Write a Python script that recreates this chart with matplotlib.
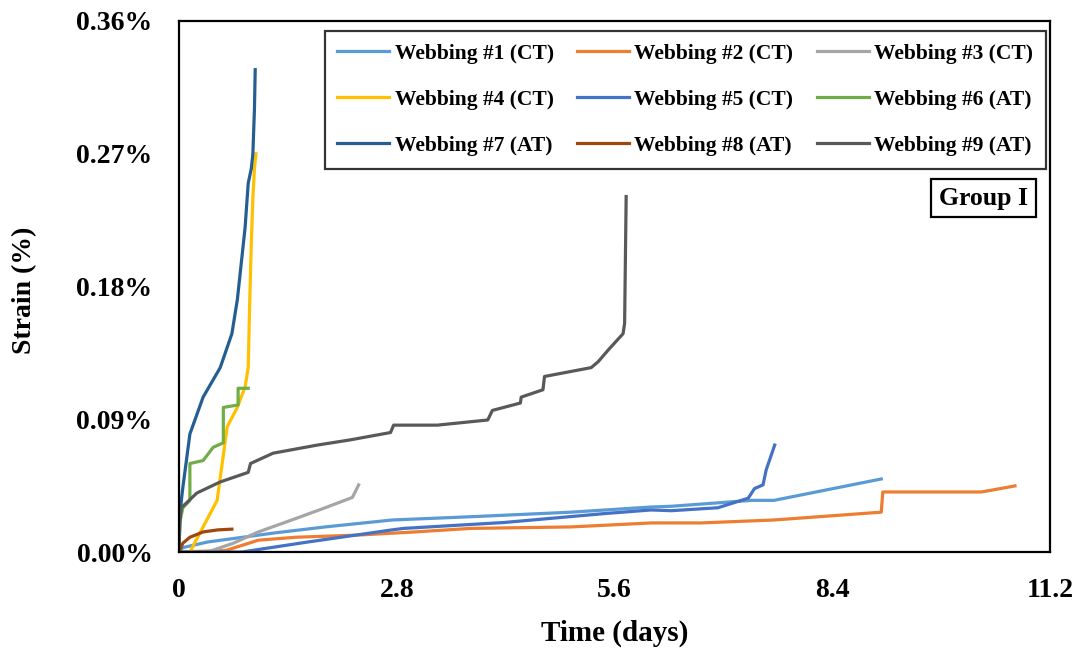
import matplotlib
matplotlib.use("Agg")
import matplotlib.pyplot as plt
from matplotlib.ticker import FixedLocator

plt.rcParams['font.family'] = ['Liberation Serif', 'DejaVu Serif']
plt.rcParams['font.weight'] = 'bold'

# ---- data (time in days, strain in %) ----
w1_x = [0, 0.05, 0.37, 1.24, 1.88, 2.74, 3.79, 5.04, 6.07, 6.33, 7.36, 7.65, 9.03]
w1_y = [0, 0.003, 0.0068, 0.013, 0.017, 0.0217, 0.024, 0.027, 0.0305, 0.031, 0.035, 0.035, 0.0495]

w2_x = [0, 0.6, 1.02, 1.5, 2.31, 3.0, 3.75, 5.04, 6.07, 6.71, 7.65, 9.03, 9.05, 10.32, 10.75]
w2_y = [0, 0.001, 0.008, 0.010, 0.0115, 0.0135, 0.016, 0.017, 0.0197, 0.0197, 0.0217, 0.027, 0.0407, 0.0407, 0.0448]

w3_x = [0.37, 0.7, 1.02, 1.45, 1.88, 2.23, 2.31]
w3_y = [0, 0.006, 0.0136, 0.0217, 0.030, 0.037, 0.0455]

w4_x = [0.14, 0.22, 0.31, 0.40, 0.49, 0.55, 0.62, 0.75, 0.85, 0.89, 0.91, 0.93, 0.95, 0.97, 0.99]
w4_y = [0.0, 0.008, 0.017, 0.026, 0.035, 0.058, 0.085, 0.098, 0.112, 0.125, 0.171, 0.21, 0.24, 0.26, 0.27]

w5_x = [0, 0.81, 1.66, 2.74, 2.89, 4.18, 5.46, 6.07, 6.33, 6.93, 7.32, 7.40, 7.51, 7.55, 7.66]
w5_y = [0, 0.0, 0.0068, 0.015, 0.016, 0.020, 0.026, 0.0285, 0.028, 0.030, 0.0365, 0.043, 0.0455, 0.0556, 0.0725]

w6_x = [0, 0.01, 0.05, 0.14, 0.14, 0.31, 0.44, 0.57, 0.57, 0.76, 0.76, 0.89]
w6_y = [0, 0.020, 0.030, 0.035, 0.060, 0.062, 0.071, 0.074, 0.098, 0.0997, 0.111, 0.111]

w7_x = [0, 0.01, 0.03, 0.05, 0.14, 0.31, 0.53, 0.68, 0.75, 0.85, 0.89, 0.93, 0.95, 0.97, 0.98]
w7_y = [0, 0.020, 0.035, 0.044, 0.080, 0.105, 0.125, 0.148, 0.171, 0.22, 0.25, 0.26, 0.27, 0.30, 0.327]

w8_x = [0, 0.05, 0.14, 0.31, 0.50, 0.68]
w8_y = [0, 0.006, 0.010, 0.0136, 0.015, 0.0155]

w9_x = [0, 0.01, 0.03, 0.23, 0.53, 0.89, 0.92, 1.21, 1.78, 2.2, 2.72, 2.76, 3.32, 3.97, 4.03,
        4.39, 4.40, 4.68, 4.70, 5.30, 5.39, 5.52, 5.71, 5.73, 5.75]
w9_y = [0, 0.0217, 0.030, 0.040, 0.0475, 0.054, 0.060, 0.067, 0.0725, 0.076, 0.081, 0.086, 0.086,
        0.0895, 0.096, 0.101, 0.105, 0.110, 0.119, 0.125, 0.129, 0.137, 0.148, 0.155, 0.241]

labels = ["Webbing #1 (CT)", "Webbing #2 (CT)", "Webbing #3 (CT)",
          "Webbing #4 (CT)", "Webbing #5 (CT)", "Webbing #6 (AT)",
          "Webbing #7 (AT)", "Webbing #8 (AT)", "Webbing #9 (AT)"]
colors = ["#5B9BD5", "#ED7D31", "#A5A5A5", "#FFC000", "#4472C4", "#70AD47",
          "#255E91", "#9E480E", "#595959"]
xs = [w1_x, w2_x, w3_x, w4_x, w5_x, w6_x, w7_x, w8_x, w9_x]
ys = [w1_y, w2_y, w3_y, w4_y, w5_y, w6_y, w7_y, w8_y, w9_y]

x_ticks = [0, 2.8, 5.6, 8.4, 11.2]
x_ticklabels = ["0", "2.8", "5.6", "8.4", "11.2"]
y_ticks = [0, 0.09, 0.18, 0.27, 0.36]
y_ticklabels = ["0.00%", "0.09%", "0.18%", "0.27%", "0.36%"]

W, H = 1086, 656
L, R, T, B = 179, 1050, 21, 552
fig = plt.figure(figsize=(W/100, H/100), dpi=100)
ax = fig.add_axes([L/W, 1 - B/H, (R-L)/W, (B-T)/H])

handles = []
for x, y, c, l in zip(xs, ys, colors, labels):
    h, = ax.plot(x, y, color=c, lw=2.3, label=l, solid_joinstyle='round')
    handles.append(h)

ax.set_xlim(0, 11.2)
ax.set_ylim(0, 0.36)
ax.xaxis.set_major_locator(FixedLocator(x_ticks))
ax.set_xticklabels(x_ticklabels)
ax.yaxis.set_major_locator(FixedLocator(y_ticks))
ax.set_yticklabels(y_ticklabels)
ax.tick_params(axis='x', length=0, labelsize=20, pad=19)
ax.tick_params(axis='y', length=0, labelsize=20, pad=19)
for lab in ax.get_xticklabels() + ax.get_yticklabels():
    lab.set_fontweight('bold')
for s in ax.spines.values():
    s.set_linewidth(1.6)
    s.set_color('black')

fig.text(615/W, 1 - 633/H, "Time (days)", ha='center', va='center', fontsize=21, fontweight='bold')
fig.text(25/W, 1 - 290/H, "Strain (%)", ha='center', va='center', rotation=90,
         fontsize=20, fontweight='bold')

# row-major legend order like the reference
order = [0, 3, 6, 1, 4, 7, 2, 5, 8]
leg = ax.legend(handles=[handles[i] for i in order], ncol=3, loc='upper right',
                bbox_to_anchor=((1046-L)/(R-L), (B-31)/(B-T)), borderaxespad=0,
                frameon=True, fancybox=False, edgecolor='black',
                handlelength=2.4, handletextpad=0.25, columnspacing=1.1,
                borderpad=0.6, labelspacing=1.2, prop={'weight': 'bold', 'size': 15.5})
leg.get_frame().set_linewidth(1.6)

ax.text((1028-L)/(R-L), (B-198)/(B-T), "Group I", transform=ax.transAxes, ha='right', va='center',
        fontsize=18.5, fontweight='bold',
        bbox=dict(boxstyle='square,pad=0.3', fc='white', ec='black', lw=1.6))

fig.savefig("out.png", dpi=100)
